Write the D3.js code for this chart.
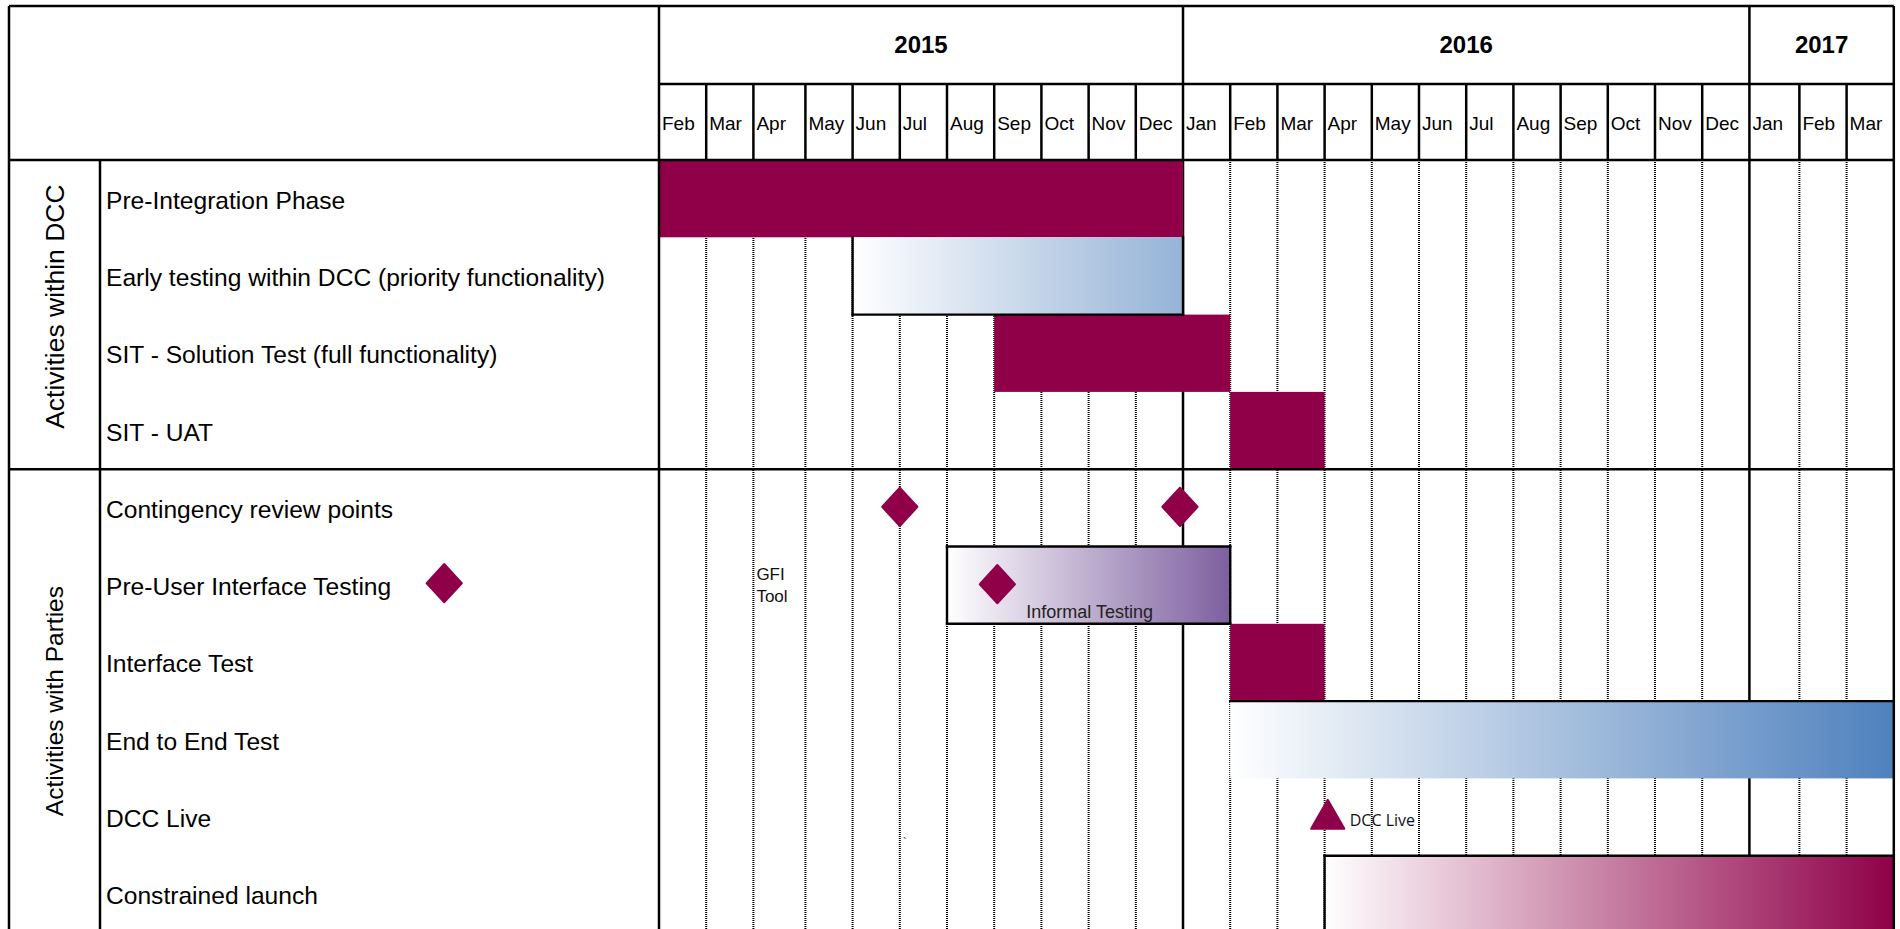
<!DOCTYPE html>
<html>
<head>
<meta charset="utf-8">
<script src="https://cdn.jsdelivr.net/npm/d3@7"></script>
<style>
  body { margin: 0; background: #fff; }
  svg { display: block; font-family: "Liberation Sans", Arial, sans-serif; }
</style>
</head>
<body>
<div id="chart"></div>
<script>
// Data
const months = ['Feb', 'Mar', 'Apr', 'May', 'Jun', 'Jul', 'Aug', 'Sep', 'Oct', 'Nov', 'Dec',
    'Jan', 'Feb', 'Mar', 'Apr', 'May', 'Jun', 'Jul', 'Aug', 'Sep', 'Oct', 'Nov', 'Dec',
    'Jan', 'Feb', 'Mar']
const years = ['2015', '2016', '2017']
const yearMonthCounts = [11, 12, 3]

const groupLabels = ['Activities within DCC', 'Activities with Parties']
const groupSizes = [4, 6]
const rowLabels = [
    'Pre-Integration Phase',
    'Early testing within DCC (priority functionality)',
    'SIT - Solution Test (full functionality)',
    'SIT - UAT',
    'Contingency review points',
    'Pre-User Interface Testing',
    'Interface Test',
    'End to End Test',
    'DCC Live',
    'Constrained launch'
]

const barRows = ['Pre-Integration Phase', 'Early testing within DCC (priority functionality)',
    'SIT - Solution Test (full functionality)', 'SIT - UAT', 'Pre-User Interface Testing',
    'Interface Test', 'End to End Test', 'Constrained launch']
const barStarts = ['2015-02-01', '2015-06-01', '2015-09-01', '2016-02-01', '2015-08-01', '2016-02-01', '2016-02-01', '2016-04-01']
const barEnds = ['2016-01-01', '2016-01-01', '2016-02-01', '2016-04-01', '2016-02-01', '2016-04-01', '2017-04-01', '2017-04-01']
const barLabels = ['', '', '', '', 'Informal Testing', '', '', '']

const milestoneRows = ['Contingency review points', 'Contingency review points', 'Pre-User Interface Testing', 'DCC Live']
const milestoneDates = ['2015-07-01', '2015-12-30', '2015-09-03', '2016-04-03']
const milestoneShapes = ['diamond', 'diamond', 'diamond', 'triangle']
const milestoneLabels = ['', '', '', 'DCC Live']

// styles
const maroon = '#8f0048'
const barStyle = {
    'Pre-Integration Phase': {fill: 'solid', border: ''},
    'Early testing within DCC (priority functionality)': {fill: 'gradLightBlue', border: 'lbr'},
    'SIT - Solution Test (full functionality)': {fill: 'solid', border: ''},
    'SIT - UAT': {fill: 'solid', border: ''},
    'Pre-User Interface Testing': {fill: 'gradPurple', border: 'tlbr'},
    'Interface Test': {fill: 'solid', border: ''},
    'End to End Test': {fill: 'gradBlue', border: 't'},
    'Constrained launch': {fill: 'gradMaroon', border: 'tl'}
}
const gradients = [
    {id: 'gradLightBlue', color: '#95b3d7'},
    {id: 'gradPurple', color: '#7d5f9f'},
    {id: 'gradBlue', color: '#4f81bd'},
    {id: 'gradMaroon', color: maroon}
]

// Dimension
const dim = {
    width: 1900, height: 929,
    left: 9, top: 6,
    groupCol: 100, labelCol: 659,
    yearRow: 84, header: 160,
    rowH: 77.3
}
const colWidths = months.map((m, i) => i === 2 ? 52 : i === 23 ? 50 : 47.2)
const edges = [dim.labelCol]
colWidths.forEach(w => edges.push(edges[edges.length - 1] + w))
dim.right = edges[edges.length - 1]

const parse = d3.timeParse('%Y-%m-%d')
const monthStarts = d3.timeMonth.range(new Date(2015, 1, 1), new Date(2017, 3, 2))

// scales
const xScale = d3.scaleTime()
    .domain(monthStarts)
    .range(edges)

const yScale = d3.scaleBand()
    .domain(rowLabels)
    .range([dim.header, dim.header + rowLabels.length * dim.rowH])

const svg = d3.select('#chart')
    .append('svg')
    .attr('width', dim.width)
    .attr('height', dim.height)

const defs = svg.append('defs')
gradients.forEach(g => {
    const lg = defs.append('linearGradient')
        .attr('id', g.id)
        .attr('x1', 0).attr('x2', 1).attr('y1', 0).attr('y2', 0)
    lg.append('stop').attr('offset', 0).attr('stop-color', '#ffffff')
    lg.append('stop').attr('offset', 1).attr('stop-color', g.color)
})

svg.append('rect')
    .attr('width', dim.width)
    .attr('height', dim.height)
    .attr('fill', '#fff')

// month grid in the body
const yearStartIdx = d3.cumsum(yearMonthCounts).slice(0, -1)
svg.append('g')
    .selectAll('line')
    .data(monthStarts.slice(1, -1))
    .join('line')
    .attr('x1', d => xScale(d))
    .attr('x2', d => xScale(d))
    .attr('y1', dim.header)
    .attr('y2', dim.height)
    .attr('stroke', '#000')
    .attr('stroke-width', (d, i) => yearStartIdx.includes(i + 1) ? 2.5 : 2)
    .attr('stroke-dasharray', (d, i) => yearStartIdx.includes(i + 1) ? null : '1 1')

// bars
const bars = barRows.map((r, i) => ({row: r, start: parse(barStarts[i]), end: parse(barEnds[i]), label: barLabels[i]}))

svg.append('g')
    .selectAll('rect')
    .data(bars)
    .join('rect')
    .attr('x', d => xScale(d.start))
    .attr('y', d => yScale(d.row))
    .attr('width', d => xScale(d.end) - xScale(d.start))
    .attr('height', yScale.bandwidth())
    .attr('fill', d => barStyle[d.row].fill === 'solid' ? maroon : `url(#${barStyle[d.row].fill})`)

// bar borders
const borderSegs = []
bars.forEach(d => {
    const x0 = xScale(d.start), x1 = xScale(d.end)
    const y0 = yScale(d.row), y1 = y0 + yScale.bandwidth()
    const sides = barStyle[d.row].border
    if (sides.includes('t')) borderSegs.push([x0, y0, x1, y0])
    if (sides.includes('b')) borderSegs.push([x0, y1, x1, y1])
    if (sides.includes('l')) borderSegs.push([x0, y0, x0, y1])
    if (sides.includes('r')) borderSegs.push([x1, y0, x1, y1])
})
svg.append('g')
    .selectAll('line')
    .data(borderSegs)
    .join('line')
    .attr('x1', d => d[0]).attr('y1', d => d[1])
    .attr('x2', d => d[2]).attr('y2', d => d[3])
    .attr('stroke', '#000')
    .attr('stroke-width', 2.4)
    .attr('stroke-linecap', 'square')

svg.append('g')
    .selectAll('text')
    .data(bars.filter(d => d.label))
    .join('text')
    .attr('x', d => (xScale(d.start) + xScale(d.end)) / 2 + 1)
    .attr('y', d => yScale(d.row) + yScale.bandwidth() - 6)
    .attr('text-anchor', 'middle')
    .attr('font-size', 18)
    .attr('fill', '#222')
    .text(d => d.label)

// milestones
const diamondPath = d3.symbol(d3.symbolSquare, 620)()
const trianglePath = d3.symbol(d3.symbolTriangle, 480)()
const milestones = milestoneRows.map((r, i) => ({row: r, date: parse(milestoneDates[i]), shape: milestoneShapes[i], label: milestoneLabels[i]}))

const ms = svg.append('g')
    .selectAll('g')
    .data(milestones)
    .join('g')
    .attr('transform', d => `translate(${xScale(d.date)}, ${yScale(d.row) + yScale.bandwidth() / 2 + (d.shape === 'triangle' ? 2 : -1)})`)

ms.append('path')
    .attr('d', d => d.shape === 'diamond' ? diamondPath : trianglePath)
    .attr('transform', d => d.shape === 'diamond' ? 'scale(1,1.08) rotate(45)' : null)
    .attr('fill', maroon)
    .attr('stroke', maroon)
    .attr('stroke-width', 2)
    .attr('stroke-linejoin', 'round')

ms.filter(d => d.label)
    .append('text')
    .attr('x', 22)
    .attr('y', 7)
    .attr('font-size', 16)
    .attr('font-family', '"Open Sans", sans-serif')
    .attr('fill', '#111')
    .text(d => d.label)

// annotation GFI Tool
const gfi = svg.append('text')
    .attr('x', xScale(parse('2015-04-01')) + 3)
    .attr('y', yScale('Pre-User Interface Testing') + yScale.bandwidth() / 2 - 5)
    .attr('font-size', 17)
    .attr('fill', '#111')
gfi.append('tspan').text('GFI')
gfi.append('tspan')
    .attr('x', xScale(parse('2015-04-01')) + 3)
    .attr('dy', 22)
    .text('Tool')

svg.append('text')
    .attr('x', xScale(parse('2015-07-01')) + 3)
    .attr('y', yScale('DCC Live') + yScale.bandwidth() / 2 + 30)
    .attr('font-size', 12)
    .attr('fill', '#333')
    .text('`')

// row labels
const labels = svg.append('g')
    .selectAll('text')
    .data(rowLabels)
    .join('text')
    .attr('x', dim.groupCol + 6)
    .attr('y', d => yScale(d) + yScale.bandwidth() / 2 + 10)
    .attr('font-size', 24.6)
    .attr('fill', '#000')
    .text(d => d)

// legend diamond next to Pre-User Interface Testing label
labels.filter(d => d === 'Pre-User Interface Testing').each(function (d) {
    const len = this.getComputedTextLength()
    svg.append('path')
        .attr('d', diamondPath)
        .attr('transform', `translate(${dim.groupCol + 6 + len + 53}, ${yScale(d) + yScale.bandwidth() / 2 - 2}) scale(1,1.08) rotate(45)`)
        .attr('fill', maroon)
        .attr('stroke', maroon)
        .attr('stroke-width', 2)
        .attr('stroke-linejoin', 'round')
})

// group labels
const groupStarts = [0, ...d3.cumsum(groupSizes)]
const groupFont = [26.5, 24.5]
const groupShift = [-8, 0]
svg.append('g')
    .selectAll('text')
    .data(groupLabels)
    .join('text')
    .attr('transform', (d, i) => {
        const y0 = yScale(rowLabels[groupStarts[i]])
        const cy = y0 + groupSizes[i] * dim.rowH / 2 + groupShift[i]
        return `translate(${(dim.left + dim.groupCol) / 2}, ${cy}) rotate(-90)`
    })
    .attr('text-anchor', 'middle')
    .attr('dy', '0.35em')
    .attr('font-size', (d, i) => groupFont[i])
    .text(d => d)

// header
const yearEdges = [0, ...d3.cumsum(yearMonthCounts)]
svg.append('g')
    .selectAll('text')
    .data(years)
    .join('text')
    .attr('x', (d, i) => (xScale(monthStarts[yearEdges[i]]) + xScale(monthStarts[yearEdges[i + 1]])) / 2)
    .attr('y', 53)
    .attr('text-anchor', 'middle')
    .attr('font-size', 24)
    .attr('font-weight', 'bold')
    .text(d => d)

svg.append('g')
    .selectAll('text')
    .data(months)
    .join('text')
    .attr('x', (d, i) => xScale(monthStarts[i]) + 3)
    .attr('y', 129.5)
    .attr('font-size', 19)
    .text(d => d)

// frame lines
const frame = svg.append('g')
    .attr('stroke', '#000')
    .attr('stroke-width', 2.5)
    .attr('fill', 'none')

const hLines = [
    [dim.left, dim.right, dim.top],
    [dim.labelCol, dim.right, dim.yearRow],
    [dim.left, dim.right, dim.header],
    [dim.left, dim.right, yScale(rowLabels[groupSizes[0]])]
]
frame.selectAll('line.h')
    .data(hLines)
    .join('line')
    .attr('class', 'h')
    .attr('x1', d => d[0]).attr('x2', d => d[1])
    .attr('y1', d => d[2]).attr('y2', d => d[2])

const vLines = [
    [dim.left, dim.top, dim.height],
    [dim.groupCol, dim.header, dim.height],
    [dim.labelCol, dim.top, dim.height],
    [dim.right, dim.top, dim.height],
    ...monthStarts.slice(1, -1).map((d, i) => yearStartIdx.includes(i + 1)
        ? [xScale(d), dim.top, dim.header]
        : [xScale(d), dim.yearRow, dim.header])
]
frame.selectAll('line.v')
    .data(vLines)
    .join('line')
    .attr('class', 'v')
    .attr('x1', d => d[0]).attr('x2', d => d[0])
    .attr('y1', d => d[1]).attr('y2', d => d[2])
</script>
</body>
</html>
